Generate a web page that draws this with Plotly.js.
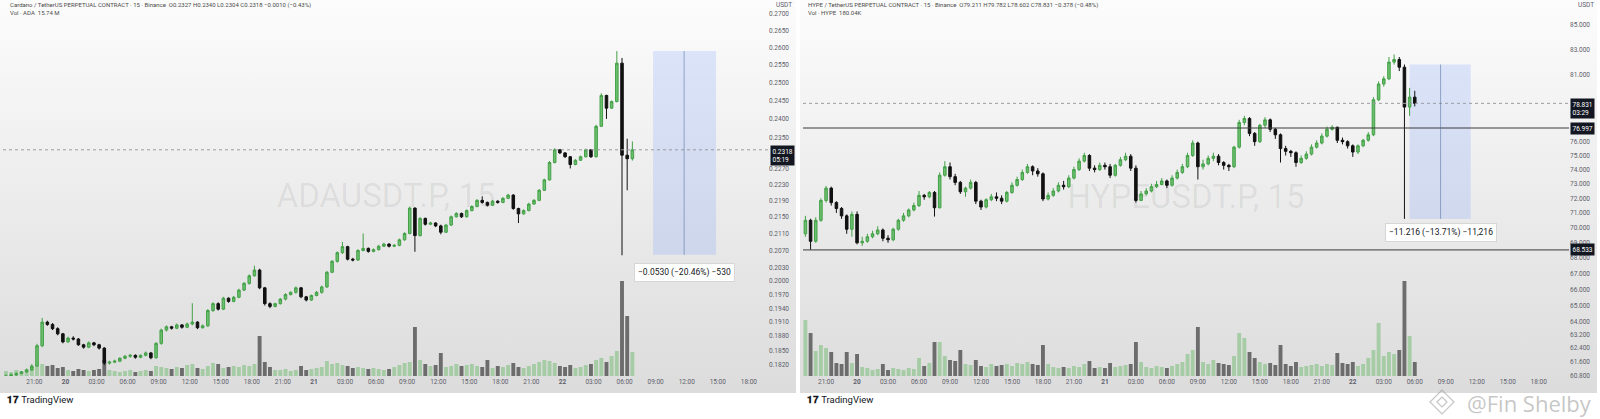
<!DOCTYPE html>
<html>
<head>
<meta charset="utf-8">
<script src="https://cdn.plot.ly/plotly-3.0.1.min.js"></script>
<style>
  html, body { margin: 0; padding: 0; background: #fff; }
  #wrap { position: relative; width: 1600px; height: 419px; overflow: hidden; font-family: Roboto, sans-serif; }
  .panel { position: absolute; top: 0; height: 393px; background: linear-gradient(#fcfcfc, #dcdcdc); }
  .mark { position: absolute; font-size: 33px; color: rgba(0, 0, 0, 0.07); white-space: nowrap; transform: translate(-50%, -50%); }
  #chart { position: absolute; left: 0; top: 0; }
</style>
</head>
<body>
<div id="wrap">
  <div class="panel" style="left:0;width:796px"></div>
  <div class="panel" style="left:800px;width:797px"></div>
  <div class="mark" style="left:386px;top:195px">ADAUSDT.P, 15</div>
  <div class="mark" style="left:1186px;top:196px">HYPEUSDT.P, 15</div>
  <div id="chart"></div>
</div>
<script>
// 30-minute candles
const adaStart = '2025-06-19 18:15';
const adaOpen = [
  0.1795,0.1798,0.1800,0.1803,0.1806,0.1810,0.1818,0.1860,0.1910,0.1905,
  0.1896,0.1885,0.1868,0.1876,0.1874,0.1862,0.1857,0.1866,0.1862,0.1855,
  0.1824,0.1826,0.1828,0.1834,0.1838,0.1840,0.1836,0.1840,0.1845,0.1835,
  0.1865,0.1893,0.1900,0.1897,0.1904,0.1899,0.1906,0.1910,0.1898,0.1902,
  0.1935,0.1950,0.1938,0.1962,0.1955,0.1964,0.1980,0.1995,0.2012,0.2025,
  0.1985,0.1950,0.1944,0.1950,0.1960,0.1970,0.1975,0.1985,0.1965,0.1958,
  0.1968,0.1975,0.1987,0.2020,0.2045,0.2065,0.2079,0.2050,0.2048,0.2070,
  0.2075,0.2068,0.2072,0.2080,0.2085,0.2080,0.2082,0.2095,0.2110,0.2171,
  0.2105,0.2146,0.2132,0.2135,0.2128,0.2113,0.2130,0.2150,0.2158,0.2150,
  0.2165,0.2175,0.2190,0.2185,0.2178,0.2188,0.2185,0.2195,0.2203,0.2170,
  0.2157,0.2165,0.2181,0.2190,0.2215,0.2241,0.2285,0.2318,0.2310,0.2300,
  0.2280,0.2291,0.2300,0.2318,0.2300,0.2380,0.2464,0.2429,0.2447,0.2555,
  0.2304,0.2295];
const adaHigh = [
  0.1801,0.1803,0.1805,0.1808,0.1813,0.1822,0.1864,0.1919,0.1913,0.1908,
  0.1899,0.1887,0.1879,0.1880,0.1876,0.1864,0.1869,0.1868,0.1864,0.1857,
  0.1829,0.1831,0.1836,0.1841,0.1843,0.1842,0.1842,0.1848,0.1847,0.1867,
  0.1896,0.1903,0.1902,0.1907,0.1906,0.1909,0.1951,0.1912,0.1905,0.1938,
  0.1953,0.1953,0.1965,0.1964,0.1967,0.1983,0.1998,0.2015,0.2035,0.2028,
  0.1987,0.1953,0.1952,0.1962,0.1973,0.1977,0.1988,0.1987,0.1967,0.1970,
  0.1978,0.1990,0.2023,0.2048,0.2068,0.2090,0.2081,0.2053,0.2073,0.2110,
  0.2077,0.2075,0.2083,0.2088,0.2087,0.2085,0.2098,0.2113,0.2175,0.2173,
  0.2149,0.2148,0.2138,0.2137,0.2131,0.2133,0.2153,0.2161,0.2160,0.2168,
  0.2178,0.2193,0.2200,0.2187,0.2191,0.2190,0.2198,0.2206,0.2205,0.2172,
  0.2168,0.2184,0.2193,0.2218,0.2244,0.2289,0.2322,0.2320,0.2312,0.2302,
  0.2294,0.2303,0.2321,0.2320,0.2384,0.2470,0.2466,0.2450,0.2590,0.2570,
  0.2347,0.2340];
const adaLow = [
  0.1792,0.1796,0.1798,0.1801,0.1804,0.1808,0.1816,0.1857,0.1902,0.1893,
  0.1882,0.1865,0.1866,0.1871,0.1860,0.1854,0.1855,0.1859,0.1852,0.1820,
  0.1821,0.1824,0.1826,0.1832,0.1835,0.1833,0.1834,0.1838,0.1832,0.1833,
  0.1862,0.1890,0.1894,0.1895,0.1896,0.1897,0.1903,0.1895,0.1896,0.1900,
  0.1932,0.1935,0.1936,0.1952,0.1953,0.1962,0.1978,0.1992,0.2010,0.1982,
  0.1946,0.1940,0.1942,0.1948,0.1957,0.1968,0.1972,0.1962,0.1955,0.1956,
  0.1966,0.1972,0.1985,0.2018,0.2042,0.2062,0.2047,0.2045,0.2046,0.2068,
  0.2065,0.2066,0.2070,0.2078,0.2077,0.2078,0.2080,0.2093,0.2108,0.2067,
  0.2103,0.2129,0.2130,0.2125,0.2108,0.2111,0.2128,0.2148,0.2147,0.2148,
  0.2163,0.2173,0.2182,0.2175,0.2176,0.2182,0.2183,0.2193,0.2167,0.2135,
  0.2155,0.2163,0.2179,0.2188,0.2213,0.2239,0.2283,0.2307,0.2297,0.2270,
  0.2278,0.2289,0.2298,0.2297,0.2298,0.2378,0.2400,0.2427,0.2445,0.2059,
  0.2215,0.2290];
const adaClose = [
  0.1798,0.1800,0.1803,0.1806,0.1810,0.1818,0.1860,0.1910,0.1905,0.1896,
  0.1885,0.1868,0.1876,0.1874,0.1862,0.1857,0.1866,0.1862,0.1855,0.1824,
  0.1826,0.1828,0.1834,0.1838,0.1840,0.1836,0.1840,0.1845,0.1835,0.1865,
  0.1893,0.1900,0.1897,0.1904,0.1899,0.1906,0.1910,0.1898,0.1902,0.1935,
  0.1950,0.1938,0.1962,0.1955,0.1964,0.1980,0.1995,0.2012,0.2025,0.1985,
  0.1950,0.1944,0.1950,0.1960,0.1970,0.1975,0.1985,0.1965,0.1958,0.1968,
  0.1975,0.1987,0.2020,0.2045,0.2065,0.2079,0.2050,0.2048,0.2070,0.2075,
  0.2068,0.2072,0.2080,0.2085,0.2080,0.2082,0.2095,0.2110,0.2171,0.2105,
  0.2146,0.2132,0.2135,0.2128,0.2113,0.2130,0.2150,0.2158,0.2150,0.2165,
  0.2175,0.2190,0.2185,0.2178,0.2188,0.2185,0.2195,0.2203,0.2170,0.2157,
  0.2165,0.2181,0.2190,0.2215,0.2241,0.2285,0.2318,0.2310,0.2300,0.2280,
  0.2291,0.2300,0.2318,0.2300,0.2380,0.2464,0.2429,0.2447,0.2555,0.2304,
  0.2295,0.2318];
const adaVol = [
  5,4,6,5,7,9,14,12,10,11,
  8,9,6,5,7,6,5,6,7,16,
  6,5,4,5,6,4,5,6,5,10,
  9,8,7,9,8,11,12,8,7,10,
  13,12,8,9,10,9,11,10,12,40,
  14,9,6,6,7,5,6,10,6,7,
  8,9,15,12,13,11,10,8,9,8,
  7,8,7,6,7,9,11,13,14,49,
  16,12,10,11,23,9,10,12,10,11,
  12,10,9,16,8,10,9,11,13,9,
  8,10,12,14,16,15,13,10,9,11,
  8,9,11,12,16,18,14,20,25,95,
  60,24];

const hypeStart = '2025-06-19 19:00';
const hypeOpen = [
  69.60,70.50,69.10,70.50,71.85,72.70,71.70,71.30,70.80,69.90,
  70.90,69.00,69.10,69.40,69.60,69.85,69.30,69.20,69.90,70.50,
  70.80,71.20,71.50,72.20,72.10,72.40,71.35,73.60,74.20,73.50,
  73.10,72.45,72.70,73.10,71.80,71.40,71.90,72.10,72.00,71.80,
  72.40,72.90,73.30,73.80,74.20,73.90,73.70,71.95,72.20,72.50,
  72.90,72.80,73.40,74.00,74.60,75.00,74.10,74.00,74.30,74.20,
  73.60,74.30,74.70,74.95,74.10,71.85,72.30,72.50,72.80,72.95,
  73.20,72.90,73.40,73.80,74.20,75.00,75.90,74.20,74.40,74.80,
  74.95,74.50,74.30,74.20,75.60,77.40,77.70,76.60,76.00,77.20,
  77.60,76.90,76.50,75.50,75.30,75.20,74.50,74.80,75.10,75.60,
  75.90,76.40,76.90,77.05,76.10,76.00,75.70,75.25,75.70,76.10,
  76.50,79.10,80.30,80.70,82.00,82.20,81.60,78.55,79.30];
const hypeHigh = [
  70.80,70.60,70.70,72.00,72.85,72.80,71.80,71.40,70.90,71.10,
  71.10,69.40,69.60,69.80,70.10,69.95,69.50,70.00,70.60,71.00,
  71.30,71.70,72.50,72.30,72.50,72.50,73.80,74.60,74.50,73.70,
  73.20,72.80,73.30,73.20,71.90,72.00,72.30,72.40,72.20,72.50,
  73.10,73.50,74.00,74.40,74.30,74.10,73.80,72.40,72.70,73.10,
  73.20,73.60,74.20,74.80,75.20,75.10,74.30,74.50,74.50,74.40,
  74.40,74.90,75.20,75.10,74.30,72.50,72.70,73.00,73.20,73.40,
  73.30,73.60,74.00,74.40,75.20,76.10,76.00,74.70,75.00,75.20,
  75.10,74.60,74.40,75.70,77.60,77.90,77.80,76.70,77.30,77.80,
  77.70,77.00,76.60,75.70,75.40,75.30,75.00,75.30,75.80,76.10,
  76.60,77.10,77.20,77.10,76.30,76.10,75.80,75.80,76.20,76.70,
  79.30,80.50,80.90,82.40,82.60,82.40,81.81,80.00,79.78];
const hypeLow = [
  69.40,68.55,69.00,70.40,71.70,71.50,71.00,70.60,69.60,69.40,
  68.90,68.80,69.00,69.30,69.50,69.10,69.00,69.10,69.80,70.40,
  70.70,71.10,71.40,71.90,72.00,70.75,71.30,73.50,73.30,72.90,
  72.30,72.10,72.60,71.60,71.20,71.30,71.80,71.80,71.60,71.70,
  72.30,72.80,73.20,73.70,73.60,73.50,71.80,71.85,72.10,72.40,
  72.60,72.70,73.30,73.90,74.50,73.90,73.80,73.90,74.00,73.40,
  73.50,74.20,74.60,73.90,71.70,71.80,72.20,72.40,72.70,72.90,
  72.70,72.80,73.30,73.70,74.10,74.90,73.30,74.00,74.30,74.60,
  74.30,74.00,73.90,74.10,75.50,77.20,76.40,75.70,75.90,77.00,
  76.70,76.20,74.50,75.00,74.90,74.20,74.40,74.70,75.00,75.50,
  75.80,76.30,76.80,75.90,75.80,75.50,74.90,75.10,75.60,76.00,
  76.40,79.00,80.10,80.60,81.80,81.30,70.594,77.90,78.60];
const hypeClose = [
  70.50,69.10,70.50,71.85,72.70,71.70,71.30,70.80,69.90,70.90,
  69.00,69.10,69.40,69.60,69.85,69.30,69.20,69.90,70.50,70.80,
  71.20,71.50,72.20,72.10,72.40,71.35,73.60,74.20,73.50,73.10,
  72.45,72.70,73.10,71.80,71.40,71.90,72.10,72.00,71.80,72.40,
  72.90,73.30,73.80,74.20,73.90,73.70,71.95,72.20,72.50,72.90,
  72.80,73.40,74.00,74.60,75.00,74.10,74.00,74.30,74.20,73.60,
  74.30,74.70,74.95,74.10,71.85,72.30,72.50,72.80,72.95,73.20,
  72.90,73.40,73.80,74.20,75.00,75.90,74.20,74.40,74.80,74.95,
  74.50,74.30,74.20,75.60,77.40,77.70,76.60,76.00,77.20,77.60,
  76.90,76.50,75.50,75.30,75.20,74.50,74.80,75.10,75.60,75.90,
  76.40,76.90,77.05,76.10,76.00,75.70,75.25,75.70,76.10,76.50,
  79.10,80.30,80.70,82.00,82.20,81.60,78.55,79.30,78.83];
const hypeVol = [
  56,43,25,31,28,24,13,12,24,13,
  22,9,8,6,7,12,6,8,7,6,
  8,7,18,10,13,34,34,20,16,15,
  26,12,11,16,10,9,12,10,11,12,
  10,13,12,14,12,11,31,12,9,8,
  9,8,10,9,12,15,8,9,8,13,
  9,10,11,12,34,14,9,8,10,9,
  8,10,12,14,22,26,49,14,12,16,
  13,12,11,20,43,38,24,18,14,12,
  13,11,31,12,10,14,9,10,11,12,
  10,12,11,23,13,12,14,10,12,18,
  26,53,20,24,22,26,95,40,14];

// time axis (shared by both panels)
const tickTimes = [
  '2025-06-19 18:00','2025-06-19 21:00','2025-06-20 00:00','2025-06-20 03:00','2025-06-20 06:00',
  '2025-06-20 09:00','2025-06-20 12:00','2025-06-20 15:00','2025-06-20 18:00','2025-06-20 21:00',
  '2025-06-21 00:00','2025-06-21 03:00','2025-06-21 06:00','2025-06-21 09:00','2025-06-21 12:00',
  '2025-06-21 15:00','2025-06-21 18:00','2025-06-21 21:00','2025-06-22 00:00','2025-06-22 03:00',
  '2025-06-22 06:00','2025-06-22 09:00','2025-06-22 12:00','2025-06-22 15:00','2025-06-22 18:00'];
const tickLabels = [
  '18:00','21:00','<b>20</b>','03:00','06:00','09:00','12:00','15:00','18:00','21:00',
  '<b>21</b>','03:00','06:00','09:00','12:00','15:00','18:00','21:00','<b>22</b>','03:00',
  '06:00','09:00','12:00','15:00','18:00'];

// price scale labels (those hidden under the price tags are left out)
const adaPriceTicks = [0.2700,0.2650,0.2600,0.2550,0.2500,0.2450,0.2400,0.2350,0.2270,0.2230,
  0.2190,0.2150,0.2110,0.2070,0.2030,0.2000,0.1970,0.1940,0.1910,0.1880,0.1850,0.1820];
const hypePriceTicks = [85,83,81,78,76,75,74,73,72,71,70,69,68,67,66,65,64,63.2,62.4,61.6,60.8];

// drawings on the charts
const adaLast = 0.2318;
const adaMeasure = {t0: '2025-06-22 08:45', mid: '2025-06-22 11:45', t1: '2025-06-22 14:50', low: 0.2060, high: 0.2590};
const hypeLast = 78.831;
const hypeLevels = [76.997, 68.533];
const hypeMeasure = {t0: '2025-06-22 05:30', mid: '2025-06-22 08:30', t1: '2025-06-22 11:25', low: 70.594, high: 81.81};

function barTimes(start, count) {
  const t0 = Date.parse(start.replace(' ', 'T') + ':00Z');
  const out = [];
  for (let i = 0; i < count; i++) {
    out.push(new Date(t0 + i * 30 * 60000).toISOString().slice(0, 16).replace('T', ' '));
  }
  return out;
}

const UP = '#43a047';
const UP_FILL = '#6cbf6f';
const DOWN = '#111111';
const VOL_UP = 'rgba(110,185,110,0.5)';
const VOL_DOWN = 'rgba(70,70,70,0.75)';

function volColors(open, close) {
  return close.map((c, i) => (c >= open[i] ? VOL_UP : VOL_DOWN));
}

function candles(x, o, h, l, c, xa, ya) {
  return {
    type: 'candlestick', x: x, open: o, high: h, low: l, close: c,
    xaxis: xa, yaxis: ya,
    increasing: {line: {color: UP, width: 1}, fillcolor: UP_FILL},
    decreasing: {line: {color: DOWN, width: 1}, fillcolor: DOWN},
    hoverinfo: 'skip'
  };
}

function volume(x, v, o, c, xa, ya) {
  return {
    type: 'bar', x: x, y: v, xaxis: xa, yaxis: ya,
    marker: {color: volColors(o, c), line: {width: 0}},
    hoverinfo: 'skip'
  };
}

const adaX = barTimes(adaStart, adaClose.length);
const hypeX = barTimes(hypeStart, hypeClose.length);

const data = [
  volume(adaX, adaVol, adaOpen, adaClose, 'x', 'y'),
  candles(adaX, adaOpen, adaHigh, adaLow, adaClose, 'x', 'y2'),
  volume(hypeX, hypeVol, hypeOpen, hypeClose, 'x2', 'y3'),
  candles(hypeX, hypeOpen, hypeHigh, hypeLow, hypeClose, 'x2', 'y4')
];

const W = 1600, H = 419;
const px = v => v / W;
const py = v => 1 - v / H;
const axisFont = {family: 'Roboto, sans-serif', size: 6.5, color: '#5d606b'};

function timeAxis(domain, range, anchor) {
  return {
    domain: domain, range: range, type: 'date', anchor: anchor,
    rangeslider: {visible: false},
    tickmode: 'array', tickvals: tickTimes, ticktext: tickLabels,
    tickfont: axisFont, ticks: '', showgrid: false, zeroline: false, showline: false
  };
}

function priceAxis(overlay, anchor, range, ticks, digits) {
  return {
    overlaying: overlay, anchor: anchor, side: 'right', type: 'log', range: range,
    tickmode: 'array', tickvals: ticks, ticktext: ticks.map(t => t.toFixed(digits)),
    tickfont: axisFont, ticks: '', showgrid: false, zeroline: false, showline: false
  };
}

function volAxis(anchor) {
  return {domain: [py(376), 1], range: [0, 376], anchor: anchor, visible: false, fixedrange: true};
}

const shapes = [
  {type: 'line', xref: 'x domain', yref: 'y2', x0: 0, x1: 1, y0: adaLast, y1: adaLast,
   line: {color: '#9a9ca3', width: 1, dash: 'dot'}},
  {type: 'rect', xref: 'x', yref: 'y2', x0: adaMeasure.t0, x1: adaMeasure.t1, y0: adaMeasure.low, y1: adaMeasure.high,
   fillcolor: 'rgba(80,130,255,0.17)', line: {width: 0}, layer: 'below'},
  {type: 'line', xref: 'x', yref: 'y2', x0: adaMeasure.mid, x1: adaMeasure.mid, y0: adaMeasure.low, y1: adaMeasure.high,
   line: {color: 'rgba(70,100,150,0.5)', width: 1}},
  {type: 'line', xref: 'x2 domain', yref: 'y4', x0: 0, x1: 1, y0: hypeLast, y1: hypeLast,
   line: {color: '#9a9ca3', width: 1, dash: 'dot'}},
  ...hypeLevels.map(v => ({type: 'line', xref: 'x2 domain', yref: 'y4', x0: 0, x1: 1, y0: v, y1: v,
   line: {color: '#3a3a3a', width: 1}})),
  {type: 'rect', xref: 'x2', yref: 'y4', x0: hypeMeasure.t0, x1: hypeMeasure.t1, y0: hypeMeasure.low, y1: hypeMeasure.high,
   fillcolor: 'rgba(80,130,255,0.17)', line: {width: 0}, layer: 'below'},
  {type: 'line', xref: 'x2', yref: 'y4', x0: hypeMeasure.mid, x1: hypeMeasure.mid, y0: hypeMeasure.low, y1: hypeMeasure.high,
   line: {color: 'rgba(70,100,150,0.5)', width: 1}},
  // binance-style diamond next to the watermark
  {type: 'path', xref: 'paper', yref: 'paper',
   path: `M ${px(1430)} ${py(402)} L ${px(1442)} ${py(390)} L ${px(1454)} ${py(402)} L ${px(1442)} ${py(414)} Z`,
   line: {color: 'rgba(150,150,150,0.55)', width: 1.2}},
  {type: 'path', xref: 'paper', yref: 'paper',
   path: `M ${px(1437)} ${py(402)} L ${px(1442)} ${py(397)} L ${px(1447)} ${py(402)} L ${px(1442)} ${py(407)} Z`,
   line: {color: 'rgba(150,150,150,0.55)', width: 1.2}}
];

function text(x, y, t, size, color, xanchor, family) {
  return {xref: 'paper', yref: 'paper', x: px(x), y: py(y), text: t, showarrow: false,
    xanchor: xanchor || 'left', yanchor: 'middle',
    font: {family: family || 'Roboto, sans-serif', size: size, color: color}};
}

function tag(x, yref, price, label, twoLine) {
  return {xref: 'paper', x: px(x), xanchor: 'left', yref: yref, y: Math.log10(price),
    yanchor: twoLine ? 'top' : 'middle', yshift: twoLine ? 5 : 0, text: label, showarrow: false,
    bgcolor: '#131722', borderpad: 1.5, align: 'left',
    font: {family: 'Roboto, sans-serif', size: 6.5, color: '#ffffff'}};
}

function measureLabel(xref, yref, m, label, shift) {
  return {xref: xref, x: m.mid, yref: yref, y: Math.log10(m.low), yanchor: 'top', yshift: shift,
    text: label, showarrow: false, bgcolor: '#ffffff', bordercolor: '#d6d6d6', borderwidth: 1, borderpad: 3,
    font: {family: 'Roboto, sans-serif', size: 8.5, color: '#131722'}};
}

const annotations = [
  text(8, 5, 'Cardano / TetherUS PERPETUAL CONTRACT · 15 · Binance  O0.2327 H0.2340 L0.2304 C0.2318 −0.0010 (−0.43%)', 6, '#4a4a4a'),
  text(8, 13, 'Vol · ADA  15.74 M', 6, '#4a4a4a'),
  text(806, 5, 'HYPE / TetherUS PERPETUAL CONTRACT · 15 · Binance  O79.211 H79.782 L78.602 C78.831 −0.378 (−0.48%)', 6, '#4a4a4a'),
  text(806, 13, 'Vol · HYPE  180.04K', 6, '#4a4a4a'),
  text(774, 5, 'USDT', 6.5, '#5d606b'),
  text(1576, 5, 'USDT', 6.5, '#5d606b'),
  tag(770, 'y2', adaLast, '0.2318<br>05:19', true),
  tag(1570, 'y4', hypeLast, '78.831<br>03:29', true),
  tag(1570, 'y4', hypeLevels[0], '76.997', false),
  tag(1570, 'y4', hypeLevels[1], '68.533', false),
  measureLabel('x', 'y2', adaMeasure, '−0.0530 (−20.46%) −530', -8),
  measureLabel('x2', 'y4', hypeMeasure, '−11.216 (−13.71%) −11,216', -4),
  text(5, 399, '<b>𝟏𝟕</b> TradingView', 9.5, '#131722'),
  text(805, 399, '<b>𝟏𝟕</b> TradingView', 9.5, '#131722'),
  text(1594, 403, '@Fin Shelby', 22, 'rgba(150,150,150,0.55)', 'right', 'Open Sans, sans-serif')
];

const layout = {
  width: W, height: H,
  margin: {l: 0, r: 0, t: 0, b: 0},
  paper_bgcolor: 'rgba(0,0,0,0)', plot_bgcolor: 'rgba(0,0,0,0)',
  showlegend: false, hovermode: false, dragmode: false,
  bargap: 0.25,
  font: axisFont,
  xaxis: timeAxis([px(3), px(768)], ['2025-06-19 17:58', '2025-06-22 19:51'], 'y'),
  yaxis: volAxis('x'),
  yaxis2: priceAxis('y', 'x', [-0.74526, -0.56179], adaPriceTicks, 4),
  xaxis2: timeAxis([px(803), px(1569)], ['2025-06-19 18:46', '2025-06-22 20:56'], 'y3'),
  yaxis3: volAxis('x2'),
  yaxis4: priceAxis('y3', 'x2', [1.78360, 1.93957], hypePriceTicks, 3),
  shapes: shapes,
  annotations: annotations
};

Plotly.newPlot('chart', data, layout, {staticPlot: true, displayModeBar: false});
</script>
</body>
</html>
